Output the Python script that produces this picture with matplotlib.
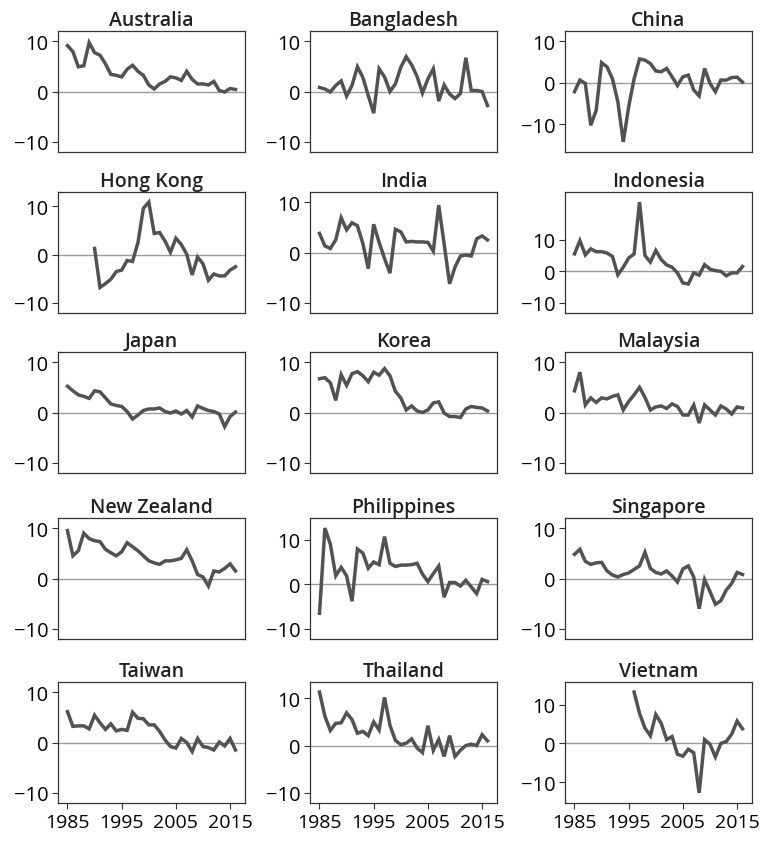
import numpy as np
import matplotlib
matplotlib.use("Agg")
import matplotlib.pyplot as plt

plt.rcParams['font.family'] = ['Open Sans', 'DejaVu Sans']

years = np.arange(1985, 2017)

australia = [9.1, 7.9, 4.9, 5.1, 9.7, 7.7, 7.2, 5.5, 3.4, 3.2, 2.9, 4.4, 5.2, 4.0, 3.2, 1.3,
             0.5, 1.5, 2.0, 2.9, 2.7, 2.2, 4.0, 2.4, 1.5, 1.5, 1.3, 2.0, 0.2, -0.1, 0.6, 0.4]
bangladesh = [0.8, 0.5, -0.1, 1.2, 2.1, -0.9, 1.2, 4.9, 2.8, -0.8, -4.3, 4.5, 2.9, 0.0, 1.5, 4.8,
              6.9, 5.3, 3.0, -0.3, 2.5, 4.5, -1.9, 1.3, -0.5, -1.4, -0.4, 6.7, 0.2, 0.2, 0.0, -2.8]
china = [-2.2, 0.6, -0.2, -10.3, -6.7, 4.8, 3.8, 0.9, -4.6, -14.3, -5.8, 0.9, 5.7, 5.4, 4.6, 2.8,
         2.6, 3.4, 1.4, -0.7, 1.4, 1.8, -1.8, -3.2, 3.4, -0.2, -2.2, 0.6, 0.6, 1.2, 1.3, 0.1]
hong_kong = [None] * 5 + [1.3, -6.8, -6.0, -5.1, -3.5, -3.2, -1.2, -1.4, 2.5, 9.6, 10.9, 4.4, 4.6,
                          2.8, 0.5, 3.4, 2.1, 0.1, -4.2, -0.5, -1.9, -5.3, -4.0, -4.4, -4.4, -3.2, -2.5]
india = [3.8, 1.3, 0.8, 2.5, 6.9, 4.5, 5.9, 5.3, 1.8, -3.2, 5.6, 2.0, -1.2, -4.1, 4.6, 4.1,
         2.1, 2.2, 2.1, 2.1, 2.0, 0.3, 9.4, 1.7, -6.2, -2.9, -0.7, -0.5, -0.7, 2.7, 3.3, 2.5]
indonesia = [5.5, 9.7, 5.2, 7.1, 6.2, 6.2, 5.8, 4.7, -1.1, 1.3, 4.2, 5.5, 21.9, 5.0, 2.9, 6.6,
             3.7, 2.0, 1.3, -0.5, -3.7, -4.0, -0.5, -1.2, 2.1, 0.7, 0.2, 0.0, -1.4, -0.5, -0.5, 1.5]
japan = [5.2, 4.3, 3.5, 3.2, 2.8, 4.3, 4.1, 2.9, 1.7, 1.4, 1.2, 0.2, -1.3, -0.5, 0.4, 0.7,
         0.7, 0.9, 0.2, -0.1, 0.3, -0.3, 0.4, -0.9, 1.3, 0.8, 0.4, 0.2, -0.3, -2.8, -0.8, 0.1]
korea = [6.7, 6.9, 5.9, 2.4, 7.5, 5.4, 7.7, 8.1, 7.3, 6.1, 8.0, 7.4, 8.7, 7.3, 4.2, 2.9,
         0.5, 1.3, 0.3, 0.0, 0.5, 1.9, 2.1, -0.1, -0.8, -0.8, -1.0, 0.7, 1.2, 1.0, 0.9, 0.3]
malaysia = [4.3, 8.0, 1.5, 2.9, 2.0, 2.9, 2.7, 3.2, 3.5, 0.5, 2.2, 3.5, 5.0, 3.0, 0.5, 1.1,
            1.3, 0.8, 1.7, 1.2, -0.5, -0.5, 1.5, -2.1, 1.5, 0.5, -0.5, 1.3, 0.7, -0.3, 1.1, 0.9]
new_zealand = [9.5, 4.5, 5.5, 9.0, 7.9, 7.5, 7.3, 5.8, 5.1, 4.5, 5.3, 7.1, 6.3, 5.5, 4.5, 3.5,
               3.1, 2.8, 3.5, 3.5, 3.7, 4.0, 5.7, 3.5, 0.8, 0.3, -1.5, 1.5, 1.3, 2.0, 2.9, 1.5]
philippines = [-6.5, 12.6, 9.0, 1.9, 3.8, 1.9, -3.8, 7.9, 7.0, 3.6, 5.0, 4.4, 10.7, 4.7, 4.0, 4.3,
               4.3, 4.4, 4.7, 2.3, 0.6, 2.4, 4.1, -2.9, 0.4, 0.4, -0.4, 0.9, -0.6, -2.1, 1.1, 0.6]
singapore = [4.8, 5.8, 3.4, 2.8, 3.1, 3.2, 1.5, 0.7, 0.3, 0.8, 1.1, 1.8, 2.5, 5.2, 2.0, 1.2,
             0.9, 1.5, 0.5, -0.7, 1.9, 2.5, 0.3, -6.0, -0.2, -2.6, -5.1, -4.4, -2.3, -1.0, 1.2, 0.8]
taiwan = [6.1, 3.2, 3.3, 3.3, 2.7, 5.4, 3.9, 2.6, 3.7, 2.3, 2.6, 2.4, 6.0, 4.8, 4.7, 3.5,
          3.5, 2.2, 0.5, -0.8, -1.1, 0.8, 0.0, -1.8, 0.8, -0.8, -1.0, -1.5, 0.1, -0.7, 0.8, -1.5]
thailand = [11.3, 6.2, 3.2, 4.7, 4.8, 6.9, 5.5, 2.6, 3.0, 2.1, 5.0, 3.3, 10.2, 4.3, 1.1, 0.2,
            0.5, 1.4, -0.5, -1.5, 4.2, -1.0, 1.3, -2.3, 2.1, -2.3, -1.0, 0.0, 0.3, 0.0, 2.3, 1.0]
vietnam = [None] * 11 + [13.3, 7.8, 4.0, 2.0, 7.5, 5.2, 1.0, 1.8, -2.8, -3.3, -1.5, -2.4, -12.8,
                         1.0, -0.2, -3.5, 0.0, 0.5, 2.4, 5.8, 3.8]

countries = ["Australia", "Bangladesh", "China", "Hong Kong", "India", "Indonesia",
             "Japan", "Korea", "Malaysia", "New Zealand", "Philippines", "Singapore",
             "Taiwan", "Thailand", "Vietnam"]
series = [australia, bangladesh, china, hong_kong, india, indonesia, japan, korea,
          malaysia, new_zealand, philippines, singapore, taiwan, thailand, vietnam]

W, H = 760, 845
fig = plt.figure(figsize=(W / 100, H / 100), dpi=100)

col_left = [58, 310, 565]
row_top = [32, 193, 353, 519, 683]
ax_w, ax_h = 187, 121

line_col = "#525252"
for k, (name, vals) in enumerate(zip(countries, series)):
    r, c = divmod(k, 3)
    ax = fig.add_axes([col_left[c] / W, 1 - (row_top[r] + ax_h) / H, ax_w / W, ax_h / H])
    y = np.array([np.nan if v is None else v for v in vals], dtype=float)
    ax.axhline(0, color="#9a9a9a", lw=1.0, zorder=1)
    ax.plot(years, y, color=line_col, lw=2.5, solid_joinstyle="miter", zorder=2)

    # y range always covers -10..10, padded by 10%
    lo = min(np.nanmin(y), -10)
    hi = max(np.nanmax(y), 10)
    pad = 0.1 * (hi - lo)
    ax.set_ylim(lo - pad, hi + pad)
    ax.set_xlim(1985 - 1.75, 2016 + 1.75)
    ax.set_yticks([-10, 0, 10])
    ax.set_yticklabels(["\u221210", "0", "10"])
    ax.set_xticks([1985, 1995, 2005, 2015])
    if r == 4:
        ax.tick_params(axis="x", length=4, width=0.8, labelsize=14, color="#333333", pad=3)
    else:
        ax.tick_params(axis="x", length=0, labelbottom=False)
    ax.tick_params(axis="y", length=4, width=0.8, labelsize=14.5, color="#333333", pad=3)
    for s in ax.spines.values():
        s.set_linewidth(0.9)
        s.set_color("#333333")
    ax.set_title(name, fontsize=14, fontweight="semibold", pad=4, color="#222222")

fig.savefig("out.png", dpi=100)
